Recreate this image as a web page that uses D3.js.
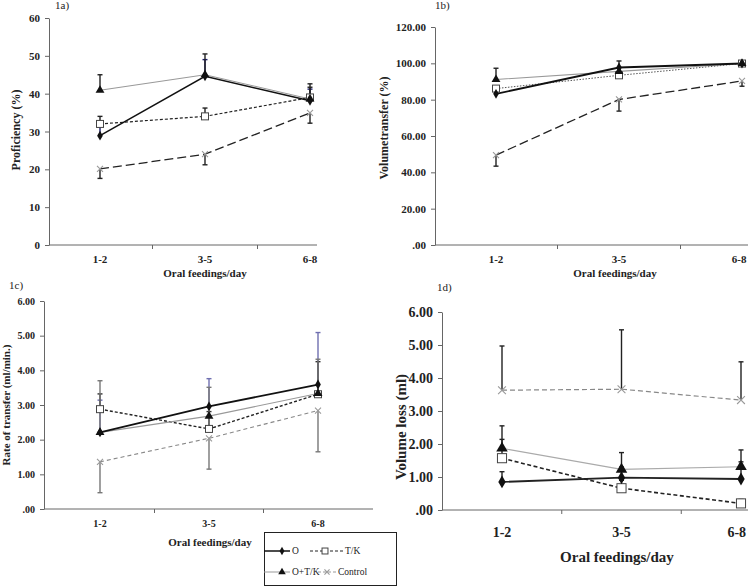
<!DOCTYPE html>
<html>
<head>
<meta charset="utf-8">
<title>Oral feeding outcomes</title>
<script src="https://d3js.org/d3.v7.min.js"></script>
<style>
  body { margin: 0; background: #fff; }
  text { font-family: "Liberation Serif", "Times New Roman", serif; fill: #222; }
</style>
</head>
<body>
<script>
// Categories and series
const cats = ["1-2", "3-5", "6-8"];
const seriesNames = ["O", "T/K", "O+T/K", "Control"];

// 1a) Proficiency (%)
const profO = [28.9, 44.6, 38.1];
const profOTK = [40.9, 45.0, 38.6];
const profTK = [32.0, 34.0, 39.0];
const profCtrl = [20.1, 24.0, 34.9];
const profErrO = [31.5, 49.0, 41.2];
const profErrOTK = [45.0, 50.5, 42.6];
const profErrTK = [34.0, 36.2, 41.7];
const profErrCtrl = [17.6, 21.2, 32.2];

// 1b) Volume transfer (%)
const volO = [83.2, 97.7, 99.9];
const volOTK = [91.1, 95.6, 99.9];
const volTK = [86.1, 93.4, 99.9];
const volCtrl = [49.5, 80.1, 90.3];
const volErrO = [83.2, 101.3, 99.9];
const volErrOTK = [97.3, 95.6, 99.9];
const volErrTK = [86.1, 93.4, 99.9];
const volErrCtrl = [43.4, 73.7, 87.4];

// 1c) Rate of transfer (ml/min.)
const rateO = [2.21, 2.96, 3.59];
const rateOTK = [2.21, 2.68, 3.33];
const rateTK = [2.88, 2.31, 3.31];
const rateCtrl = [1.36, 2.04, 2.84];
const rateErrO = [3.14, 3.76, 5.09];
const rateErrOTK = [3.70, 3.51, 4.32];
const rateErrTK = [3.32, 2.81, 4.25];
const rateErrCtrl = [0.47, 1.15, 1.65];

// 1d) Volume loss (ml)
const lossO = [0.85, 0.98, 0.94];
const lossOTK = [1.87, 1.23, 1.31];
const lossTK = [1.57, 0.66, 0.20];
const lossCtrl = [3.63, 3.66, 3.33];
const lossErrO = [1.16, 1.30, 1.46];
const lossErrOTK = [2.55, 1.74, 1.82];
const lossErrTK = [2.14, 0.90, 0.32];
const lossErrCtrl = [4.97, 5.46, 4.49];

const yTicksA = [0, 10, 20, 30, 40, 50, 60];
const yTicksB = [0, 20, 40, 60, 80, 100, 120];
const yTicksCD = [0, 1, 2, 3, 4, 5, 6];

const svg = d3.select("body").append("svg")
    .attr("width", 748).attr("height", 586);

const fmt2 = v => v === 0 ? ".00" : v.toFixed(2);

// line / marker styles per series
const styleA = {
    "O": { stroke: "#111", width: 1.5, dash: null, err: "#1c1c6a" },
    "O+T/K": { stroke: "#999", width: 1.1, dash: null, err: "#222" },
    "T/K": { stroke: "#222", width: 1.2, dash: "3,2", err: "#222" },
    "Control": { stroke: "#222", width: 1.3, dash: "9,4", err: "#222" }
};
const styleB = {
    "O": { stroke: "#111", width: 1.8, dash: null, err: "#222" },
    "O+T/K": { stroke: "#999", width: 1.1, dash: null, err: "#222" },
    "T/K": { stroke: "#555", width: 1, dash: "1.5,1.5", err: "#222" },
    "Control": { stroke: "#222", width: 1.3, dash: "9,4", err: "#222" }
};
const styleC = {
    "O": { stroke: "#111", width: 1.8, dash: null, err: "#6f6fb0" },
    "O+T/K": { stroke: "#999", width: 1.1, dash: null, err: "#777" },
    "T/K": { stroke: "#222", width: 1.4, dash: "3,2", err: "#333" },
    "Control": { stroke: "#888", width: 1.1, dash: "4,3", err: "#777" }
};
const styleD = {
    "O": { stroke: "#222", width: 1.8, dash: null, err: "#222" },
    "O+T/K": { stroke: "#aaa", width: 1.1, dash: null, err: "#222" },
    "T/K": { stroke: "#222", width: 1.6, dash: "4,2.5", err: "#222" },
    "Control": { stroke: "#888", width: 1.2, dash: "5,3", err: "#222" }
};

const panels = [
    {
        tag: "1a)", tagX: 55, tagY: 9,
        ax: 49, axEnd: 317, x1: 100, x3: 310, yTop: 18, y0: 245, max: 60,
        ticks: yTicksA, fmt: d3.format("d"), tickFont: 11, catY: 263, mk: 1,
        yTitle: "Proficiency (%)", yTitleX: 16, yTitleY: 130, yTitleFont: 12,
        xTitle: "Oral feedings/day", xTitleX: 205, xTitleY: 277, xTitleFont: 11,
        style: styleA,
        data: { "O": profO, "O+T/K": profOTK, "T/K": profTK, "Control": profCtrl },
        err: { "O": profErrO, "O+T/K": profErrOTK, "T/K": profErrTK, "Control": profErrCtrl }
    },
    {
        tag: "1b)", tagX: 435, tagY: 9,
        ax: 435, axEnd: 748, x1: 496, x3: 742, yTop: 27, y0: 245, max: 120,
        ticks: yTicksB, fmt: fmt2, tickFont: 11, catY: 263, mk: 1,
        yTitle: "Volumetransfer (%)", yTitleX: 384, yTitleY: 128, yTitleFont: 12,
        xTitle: "Oral feedings/day", xTitleX: 615, xTitleY: 277, xTitleFont: 11,
        style: styleB,
        data: { "O": volO, "O+T/K": volOTK, "T/K": volTK, "Control": volCtrl },
        err: { "O": volErrO, "O+T/K": volErrOTK, "T/K": volErrTK, "Control": volErrCtrl }
    },
    {
        tag: "1c)", tagX: 9, tagY: 289,
        ax: 44, axEnd: 373, x1: 100, x3: 318, yTop: 301, y0: 509, max: 6,
        ticks: yTicksCD, fmt: fmt2, tickFont: 10, catY: 527, mk: 1,
        yTitle: "Rate of transfer (ml/min.)", yTitleX: 6, yTitleY: 405, yTitleFont: 11,
        xTitle: "Oral feedings/day", xTitleX: 210, xTitleY: 546, xTitleFont: 11,
        style: styleC,
        data: { "O": rateO, "O+T/K": rateOTK, "T/K": rateTK, "Control": rateCtrl },
        err: { "O": rateErrO, "O+T/K": rateErrOTK, "T/K": rateErrTK, "Control": rateErrCtrl }
    },
    {
        tag: "1d)", tagX: 437, tagY: 291,
        ax: 442, axEnd: 748, x1: 502, x3: 741, yTop: 312, y0: 510, max: 6,
        ticks: yTicksCD, fmt: fmt2, tickFont: 14, catY: 537, mk: 1.3,
        yTitle: "Volume loss (ml)", yTitleX: 401, yTitleY: 427, yTitleFont: 15,
        xTitle: "Oral feedings/day", xTitleX: 617, xTitleY: 562, xTitleFont: 15,
        style: styleD,
        data: { "O": lossO, "O+T/K": lossOTK, "T/K": lossTK, "Control": lossCtrl },
        err: { "O": lossErrO, "O+T/K": lossErrOTK, "T/K": lossErrTK, "Control": lossErrCtrl }
    }
];

function drawMarker(g, name, cx, cy, k) {
    k = k || 1;
    if (name === "O") {
        g.append("path").attr("d", d3.symbol(d3.symbolDiamond, 28 * k * k)())
            .attr("transform", `translate(${cx},${cy})`).attr("fill", "#111");
    } else if (name === "O+T/K") {
        g.append("path").attr("d", d3.symbol(d3.symbolTriangle, 34 * k * k)())
            .attr("transform", `translate(${cx},${cy})`).attr("fill", "#111");
    } else if (name === "T/K") {
        const s = 7 * k;
        g.append("rect").attr("x", cx - s / 2).attr("y", cy - s / 2)
            .attr("width", s).attr("height", s)
            .attr("fill", "#fff").attr("stroke", "#444").attr("stroke-width", 1);
    } else {
        const h = 3 * k;
        g.append("path").attr("d", `M${cx - h},${cy - h}L${cx + h},${cy + h}M${cx - h},${cy + h}L${cx + h},${cy - h}`)
            .attr("stroke", "#999").attr("stroke-width", 1.1);
    }
}

panels.forEach(p => {
    const g = svg.append("g");
    const y = d3.scaleLinear().domain([0, p.max]).range([p.y0, p.yTop]);
    const x = d3.scalePoint().domain(cats).range([p.x1, p.x3]);
    const step = x.step();

    // y axis
    const yAxis = g.append("g")
        .attr("transform", `translate(${p.ax},0)`)
        .call(d3.axisLeft(y).tickValues(p.ticks).tickFormat(p.fmt).tickSize(4).tickPadding(5).tickSizeOuter(0));
    yAxis.select(".domain").attr("stroke", "#666");
    yAxis.selectAll(".tick line").attr("stroke", "#666");
    yAxis.selectAll(".tick text")
        .style("font-family", '"Liberation Serif", serif')
        .style("font-weight", "bold")
        .style("font-size", p.tickFont + "px")
        .attr("fill", "#222");

    // x axis baseline with boundary ticks
    g.append("line")
        .attr("x1", p.ax).attr("x2", p.axEnd)
        .attr("y1", p.y0).attr("y2", p.y0)
        .attr("stroke", "#666");
    cats.slice(1).forEach(c => {
        const tx = x(c) - step / 2;
        g.append("line").attr("x1", tx).attr("x2", tx)
            .attr("y1", p.y0).attr("y2", p.y0 + 4).attr("stroke", "#666");
    });
    g.selectAll(".cat").data(cats).enter().append("text")
        .attr("x", d => Math.min(x(d), 748 - p.tickFont * 0.8)).attr("y", p.catY)
        .attr("text-anchor", "middle")
        .style("font-weight", "bold").style("font-size", p.tickFont + "px")
        .text(d => d);

    // titles
    g.append("text")
        .attr("transform", `translate(${p.yTitleX},${p.yTitleY}) rotate(-90)`)
        .attr("text-anchor", "middle").attr("dy", "0.35em")
        .style("font-weight", "bold").style("font-size", p.yTitleFont + "px")
        .text(p.yTitle);
    g.append("text")
        .attr("x", p.xTitleX).attr("y", p.xTitleY)
        .attr("text-anchor", "middle")
        .style("font-weight", "bold").style("font-size", p.xTitleFont + "px")
        .text(p.xTitle);
    g.append("text")
        .attr("x", p.tagX).attr("y", p.tagY)
        .style("font-size", "11px")
        .text(p.tag);

    const order = ["Control", "T/K", "O+T/K", "O"];

    // error bars
    const errOrder = ["O", "Control", "T/K", "O+T/K"];
    errOrder.forEach(name => {
        const vals = p.data[name], errs = p.err[name];
        cats.forEach((c, i) => {
            if (errs[i] === vals[i]) return;
            const cx = x(c);
            g.append("line").attr("x1", cx).attr("x2", cx)
                .attr("y1", y(vals[i])).attr("y2", y(errs[i]))
                .attr("stroke", p.style[name].err).attr("stroke-width", 1.4);
            g.append("line").attr("x1", cx - 2.5).attr("x2", cx + 2.5)
                .attr("y1", y(errs[i])).attr("y2", y(errs[i]))
                .attr("stroke", p.style[name].err).attr("stroke-width", 1.4);
        });
    });

    // series lines
    const line = d3.line().x((d, i) => x(cats[i])).y(d => y(d));
    order.forEach(name => {
        const st = p.style[name];
        g.append("path")
            .datum(p.data[name])
            .attr("d", line)
            .attr("fill", "none")
            .attr("stroke", st.stroke)
            .attr("stroke-width", st.width)
            .attr("stroke-dasharray", st.dash);
    });

    // markers
    order.forEach(name => {
        p.data[name].forEach((v, i) => drawMarker(g, name, x(cats[i]), y(v), p.mk));
    });
});

// legend
const lg = svg.append("g");
lg.append("rect").attr("x", 264.5).attr("y", 532.5).attr("width", 132).attr("height", 53)
    .attr("fill", "#fff").attr("stroke", "#222").attr("stroke-width", 1);

const legendItems = [
    { name: "O", x0: 264, x1: 290, mx: 282, tx: 292, ty: 551, stroke: "#111", width: 1.5, dash: null },
    { name: "T/K", x0: 310, x1: 343, mx: 325, tx: 345, ty: 551, stroke: "#222", width: 1, dash: "3,2" },
    { name: "O+T/K", x0: 264, x1: 290, mx: 282, tx: 292, ty: 572, stroke: "#999", width: 1, dash: null },
    { name: "Control", x0: 318, x1: 337, mx: 327, tx: 338, ty: 572, stroke: "#999", width: 1, dash: "3,2" }
];
legendItems.forEach(it => {
    lg.append("line").attr("x1", it.x0).attr("x2", it.x1)
        .attr("y1", it.ty).attr("y2", it.ty)
        .attr("stroke", it.stroke).attr("stroke-width", it.width)
        .attr("stroke-dasharray", it.dash);
    drawMarker(lg, it.name, it.mx, it.ty, 0.85);
    lg.append("text").attr("x", it.tx).attr("y", it.ty).attr("dy", "0.35em")
        .style("font-size", "9.5px")
        .text(it.name);
});
</script>
</body>
</html>
